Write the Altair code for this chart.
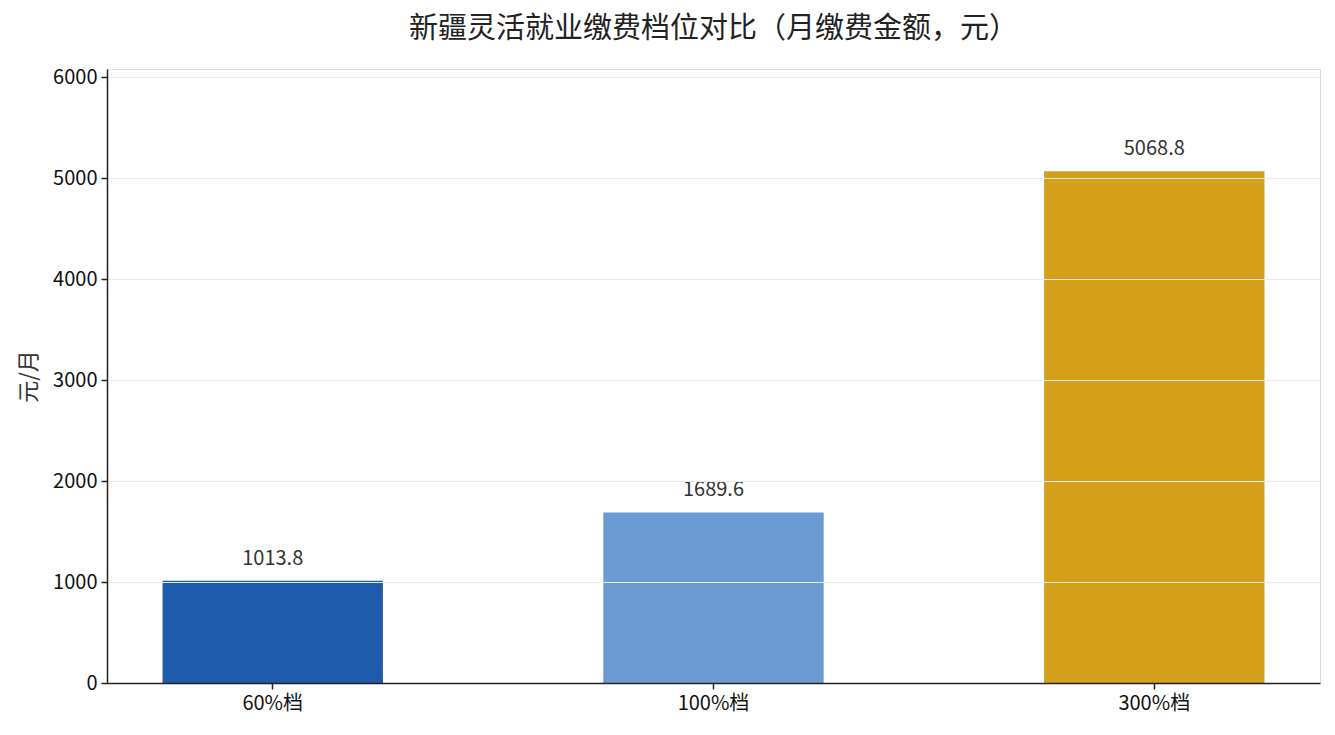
import altair as alt
import pandas as pd

categories = ["60%档", "100%档", "300%档"]
values = [1013.8, 1689.6, 5068.8]
colors = ["#1f5bad", "#6b9bd2", "#d4a019"]
labels = ["1013.8", "1689.6", "5068.8"]

df = pd.DataFrame({"cat": categories, "val": values, "color": colors, "label": labels})

FONT = "Noto Sans CJK SC"

x = alt.X("cat:N", sort=categories, title=None,
          scale=alt.Scale(paddingInner=0.5, paddingOuter=0.126),
          axis=alt.Axis(labelAngle=0, labelFontSize=20, labelColor="#111", labelFont=FONT,
                        domainColor="#222", domainWidth=1.5, tickColor="#222", tickWidth=1.5,
                        tickSize=6, labelPadding=4, zindex=2))
y = alt.Y("val:Q", title="元/月",
          scale=alt.Scale(domain=[0, 6082.56], nice=False),
          axis=alt.Axis(values=[0, 1000, 2000, 3000, 4000, 5000, 6000], format="d", labelFontSize=20,
                        labelColor="#111", labelFont=FONT, titleFont=FONT, titleFontSize=22,
                        titleFontWeight="normal", titleColor="#333", titlePadding=12,
                        domainColor="#222", domainWidth=1.5, tickColor="#222", tickWidth=1.5,
                        tickSize=6, grid=True, gridColor="#ebebeb", gridWidth=1, zindex=1,
                        labelPadding=4))

bars = alt.Chart(df).mark_bar().encode(
    x=x, y=y, color=alt.Color("color:N", scale=None)
)
text = alt.Chart(df).mark_text(baseline="bottom", dy=-12, fontSize=20, color="#333", font=FONT).encode(
    x=alt.X("cat:N", sort=categories), y="val:Q", text="label:N"
)

chart = (bars + text).properties(
    width=1213, height=614,
    padding={"left": 9, "top": 7, "right": 5, "bottom": 5},
    title=alt.TitleParams("新疆灵活就业缴费档位对比（月缴费金额，元）", fontSize=29, font=FONT,
                          fontWeight="normal", color="#222", offset=23),
).configure_view(stroke=None).configure(background="white")

chart.save("out.html", embed_options={"renderer": "svg", "actions": False})
